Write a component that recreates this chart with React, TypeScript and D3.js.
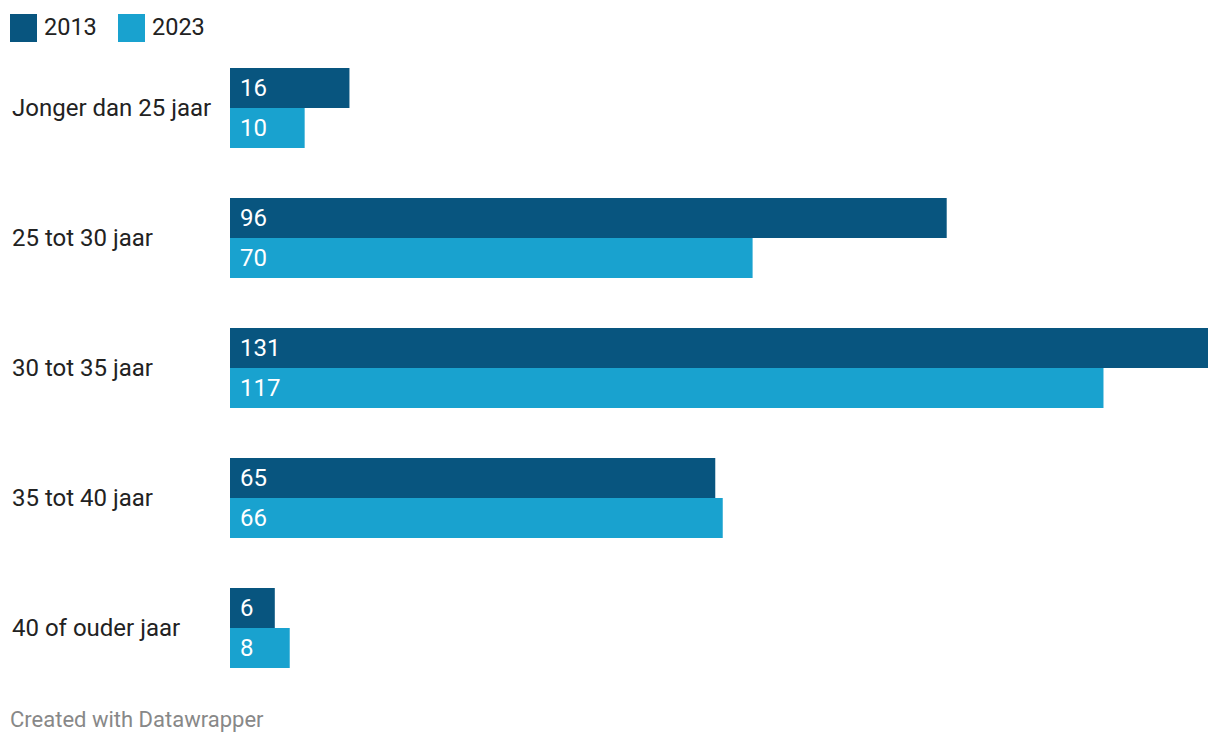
import React from "react";
import * as d3 from "d3";

const categories = ["Jonger dan 25 jaar", "25 tot 30 jaar", "30 tot 35 jaar", "35 tot 40 jaar", "40 of ouder jaar"];
const series = ["2013", "2023"];
const values2013 = [16, 96, 131, 65, 6];
const values2023 = [10, 70, 117, 66, 8];
const colors = ["#08557f", "#19a2cf"];

export default function App() {
  const W = 1220, H = 746;
  const x = d3.scaleLinear().domain([0, 131]).range([230, 1208]);
  const y = d3.scaleBand<string>().domain(categories).range([68, 668]).paddingInner(50 / 130).paddingOuter(0);
  const sub = d3.scaleBand<string>().domain(series).range([0, y.bandwidth()]);
  const data = [values2013, values2023];
  const font = "Roboto, sans-serif";
  return (
    <svg width={W} height={H} style={{ position: "absolute", left: 0, top: 0, background: "#fff" }} fontFamily={font}>
      {series.map((s, i) => (
        <g key={s}>
          <rect x={10 + i * 108} y={14} width={27} height={28} fill={colors[i]} />
          <text x={44 + i * 108} y={34.5} fontSize={23.5} fill="#222">{s}</text>
        </g>
      ))}
      {categories.map((c, ci) => (
        <g key={c}>
          <text x={12} y={(y(c) as number) + y.bandwidth() / 2} dy="0.35em" fontSize={24} fill="#222">{c}</text>
          {series.map((s, si) => {
            const v = data[si][ci];
            const by = (y(c) as number) + (sub(s) as number);
            return (
              <g key={s}>
                <rect x={x(0)} y={by} width={x(v) - x(0)} height={sub.bandwidth()} fill={colors[si]} />
                <text x={x(0) + 10} y={by + sub.bandwidth() / 2} dy="0.35em" fontSize={24} fill="#fff">{v}</text>
              </g>
            );
          })}
        </g>
      ))}
      <text x={10} y={727} fontSize={22} fill="#888">Created with Datawrapper</text>
    </svg>
  );
}
